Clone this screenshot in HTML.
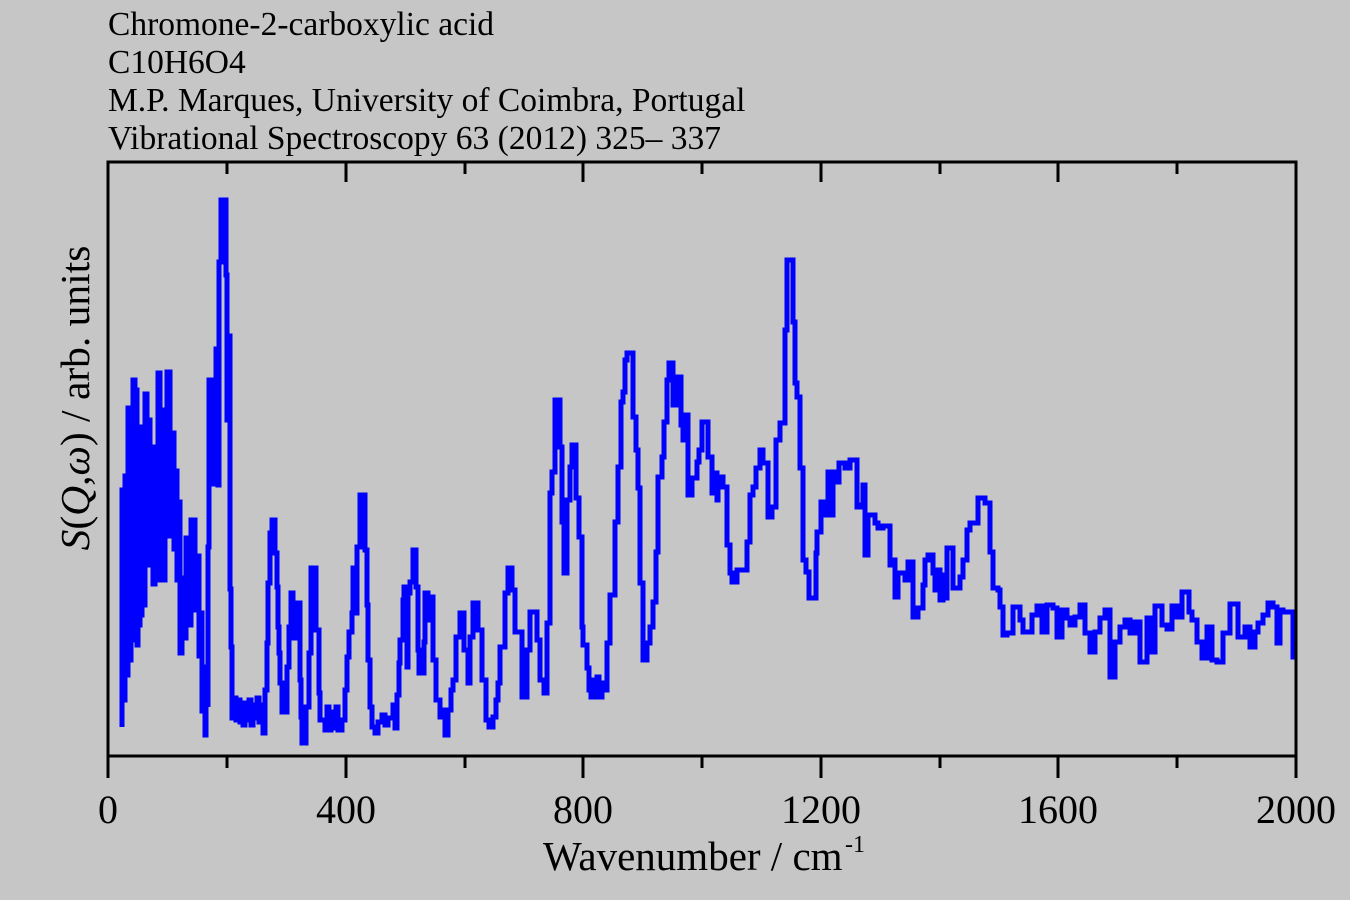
<!DOCTYPE html>
<html>
<head>
<meta charset="utf-8">
<style>
html,body{margin:0;padding:0;background:#c6c6c6;}
svg{display:block;}
text{font-family:"Liberation Serif","DejaVu Serif",serif;fill:#000;}
</style>
</head>
<body>
<svg width="1350" height="900" viewBox="0 0 1350 900" xmlns="http://www.w3.org/2000/svg">
<rect x="0" y="0" width="1350" height="900" fill="#c6c6c6"/>
<!-- title lines -->
<text x="108" y="35" font-size="33.5">Chromone-2-carboxylic acid</text>
<text x="108" y="73" font-size="33.5">C10H6O4</text>
<text x="108" y="111" font-size="33.5">M.P. Marques, University of Coimbra, Portugal</text>
<text x="108" y="149" font-size="33.5">Vibrational Spectroscopy 63 (2012) 325– 337</text>

<!-- data -->
<path fill="none" stroke="#0000ff" stroke-width="5" stroke-linejoin="miter" d="M122,727 V490 H124 V700 H125 V476 H127 V675 H128 V408 H130 V660 H131 V430 H132 V600 H133 V380 H135 V640 H136 V390 H137 V645 H138 V520 H139 V625 H140 V476 H141 V615 H142 V427 H144 V605 H145 V394 H147 V565 H149 V420 H150 V560 H151 V447 H153 V584 H155 V462 H156 V562 H158 V373 H160 V580 H161 V410 H163 V580 H165 V420 H167 V372 H170 V536 H172 V433 H174 V549 H175 V471 H177 V580 H178 V502 H180 V653 H182 V578 H184 V638 H186 V538 H189 V625 H191 V520 H195 V610 H196 V556 H199 V656 H200 V613 H202 V711 H203 V673 H205 V735 H206 V667 H208 V707 H208 V547 H209 V380 H211 V471 H212 V405 H214 V484 H216 V349 H218 V485 H219 V262 H221 V200 H226 V275 H227 V420 H228 V336 H230 V589 H231 V647 H232 V718 H234 V698 H236 V720 H238 V700 H240 V722 H241 V705 H243 V725 H245 V703 H247 V720 H249 V700 H251 V725 H253 V705 H255 V718 H257 V698 H259 V722 H261 V705 H263 V733 H265 V690 H267 V643 H268 V583 H270 V533 H272 V520 H275 V553 H277 V587 H278 V627 H279 V653 H280 V683 H282 V712 H287 V667 H289 V627 H291 V593 H293 V638 H294 V603 H296 V638 H297 V603 H300 V680 H301 V717 H302 V743 H306 V707 H309 V653 H311 V568 H316 V630 H319 V693 H320 V720 H325 V730 H327 V707 H329 V730 H331 V712 H333 V728 H336 V707 H338 V730 H342 V720 H345 V690 H347 V657 H349 V632 H352 V613 H353 V568 H355 V613 H357 V547 H360 V495 H365 V550 H367 V605 H368 V660 H370 V707 H372 V727 H375 V733 H378 V722 H382 V715 H385 V725 H388 V718 H393 V705 H395 V728 H397 V695 H399 V663 H400 V640 H403 V600 H404 V587 H407 V667 H408 V593 H410 V582 H413 V550 H416 V587 H418 V650 H419 V673 H424 V642 H425 V593 H428 V620 H430 V597 H433 V660 H436 V700 H440 V717 H443 V710 H445 V735 H448 V710 H451 V690 H453 V680 H456 V637 H460 V613 H464 V650 H468 V683 H470 V637 H473 V603 H478 V630 H482 V680 H486 V720 H489 V727 H493 V717 H496 V700 H498 V683 H500 V647 H505 V593 H508 V568 H512 V590 H515 V632 H522 V697 H527 V650 H530 V612 H537 V640 H540 V680 H544 V693 H547 V623 H550 V493 H552 V472 H555 V400 H560 V447 H562 V522 H564 V573 H567 V500 H570 V467 H572 V445 H576 V498 H579 V537 H582 V627 H583 V645 H587 V668 H589 V690 H591 V697 H593 V680 H595 V697 H597 V677 H599 V697 H602 V683 H604 V690 H607 V643 H610 V595 H615 V522 H618 V467 H621 V402 H623 V392 H625 V360 H627 V353 H633 V417 H636 V450 H638 V488 H640 V583 H643 V660 H647 V643 H650 V627 H653 V602 H656 V552 H658 V477 H662 V457 H664 V422 H667 V380 H669 V363 H673 V405 H677 V377 H681 V425 H683 V440 H686 V415 H688 V495 H692 V478 H697 V462 H699 V450 H702 V422 H708 V457 H712 V493 H715 V473 H717 V500 H718 V477 H723 V487 H727 V545 H730 V573 H732 V582 H737 V570 H747 V542 H750 V495 H753 V487 H756 V468 H760 V450 H763 V463 H768 V517 H772 V507 H776 V440 H780 V423 H785 V330 H787 V260 H793 V322 H795 V383 H797 V397 H800 V468 H803 V560 H806 V572 H809 V598 H816 V553 H817 V532 H821 V502 H824 V515 H827 V502 H828 V472 H831 V515 H833 V472 H835 V482 H839 V463 H845 V468 H850 V460 H857 V507 H860 V505 H863 V485 H865 V555 H868 V515 H875 V523 H878 V528 H883 V526 H890 V565 H892 V560 H895 V597 H898 V573 H905 V580 H908 V562 H913 V617 H918 V608 H923 V585 H925 V560 H928 V555 H933 V573 H935 V590 H937 V570 H940 V600 H943 V575 H945 V598 H947 V548 H953 V588 H960 V577 H963 V560 H967 V530 H970 V523 H978 V498 H985 V503 H990 V552 H993 V588 H998 V590 H1000 V607 H1003 V635 H1007 V633 H1013 V607 H1020 V620 H1023 V632 H1032 V615 H1037 V606 H1042 V632 H1047 V605 H1053 V608 H1057 V637 H1062 V610 H1067 V618 H1070 V625 H1075 V617 H1080 V605 H1085 V633 H1090 V652 H1095 V632 H1100 V618 H1105 V610 H1110 V677 H1115 V642 H1120 V627 H1125 V620 H1130 V633 H1135 V622 H1140 V662 H1147 V618 H1150 V652 H1155 V606 H1162 V625 H1167 V629 H1172 V606 H1177 V617 H1182 V592 H1189 V612 H1192 V620 H1197 V642 H1202 V658 H1207 V627 H1212 V660 H1217 V662 H1223 V633 H1230 V604 H1238 V637 H1245 V627 H1250 V647 H1255 V632 H1258 V623 H1263 V615 H1268 V603 H1273 V607 H1277 V643 H1280 V610 H1283 V612 H1293 V657 H1296"/>

<!-- frame -->
<rect x="108" y="162" width="1188" height="594" fill="none" stroke="#000" stroke-width="3"/>

<!-- bottom ticks (outward) -->
<g stroke="#000" stroke-width="3">
<line x1="108" y1="756" x2="108" y2="778"/>
<line x1="346" y1="756" x2="346" y2="778"/>
<line x1="583" y1="756" x2="583" y2="778"/>
<line x1="821" y1="756" x2="821" y2="778"/>
<line x1="1058" y1="756" x2="1058" y2="778"/>
<line x1="1296" y1="756" x2="1296" y2="778"/>
<line x1="227" y1="756" x2="227" y2="768"/>
<line x1="465" y1="756" x2="465" y2="768"/>
<line x1="702" y1="756" x2="702" y2="768"/>
<line x1="940" y1="756" x2="940" y2="768"/>
<line x1="1177" y1="756" x2="1177" y2="768"/>
<!-- top ticks (inward) -->
<line x1="346" y1="162" x2="346" y2="182"/>
<line x1="583" y1="162" x2="583" y2="182"/>
<line x1="821" y1="162" x2="821" y2="182"/>
<line x1="1058" y1="162" x2="1058" y2="182"/>
<line x1="227" y1="162" x2="227" y2="174"/>
<line x1="465" y1="162" x2="465" y2="174"/>
<line x1="702" y1="162" x2="702" y2="174"/>
<line x1="940" y1="162" x2="940" y2="174"/>
<line x1="1177" y1="162" x2="1177" y2="174"/>
</g>

<!-- tick labels -->
<g font-size="40" text-anchor="middle">
<text x="108" y="823">0</text>
<text x="346" y="823">400</text>
<text x="583" y="823">800</text>
<text x="821" y="823">1200</text>
<text x="1058" y="823">1600</text>
<text x="1296" y="823">2000</text>
</g>

<!-- x axis title -->
<text x="543" y="870" font-size="41">Wavenumber / cm</text>
<text x="845" y="852" font-size="24">-1</text>

<!-- y axis title -->
<text transform="translate(89,398) rotate(-90)" font-size="41.5" text-anchor="middle"><tspan font-style="italic">S</tspan>(<tspan font-style="italic">Q</tspan>,<tspan font-style="italic">ω</tspan>) / arb. units</text>
</svg>
</body>
</html>
